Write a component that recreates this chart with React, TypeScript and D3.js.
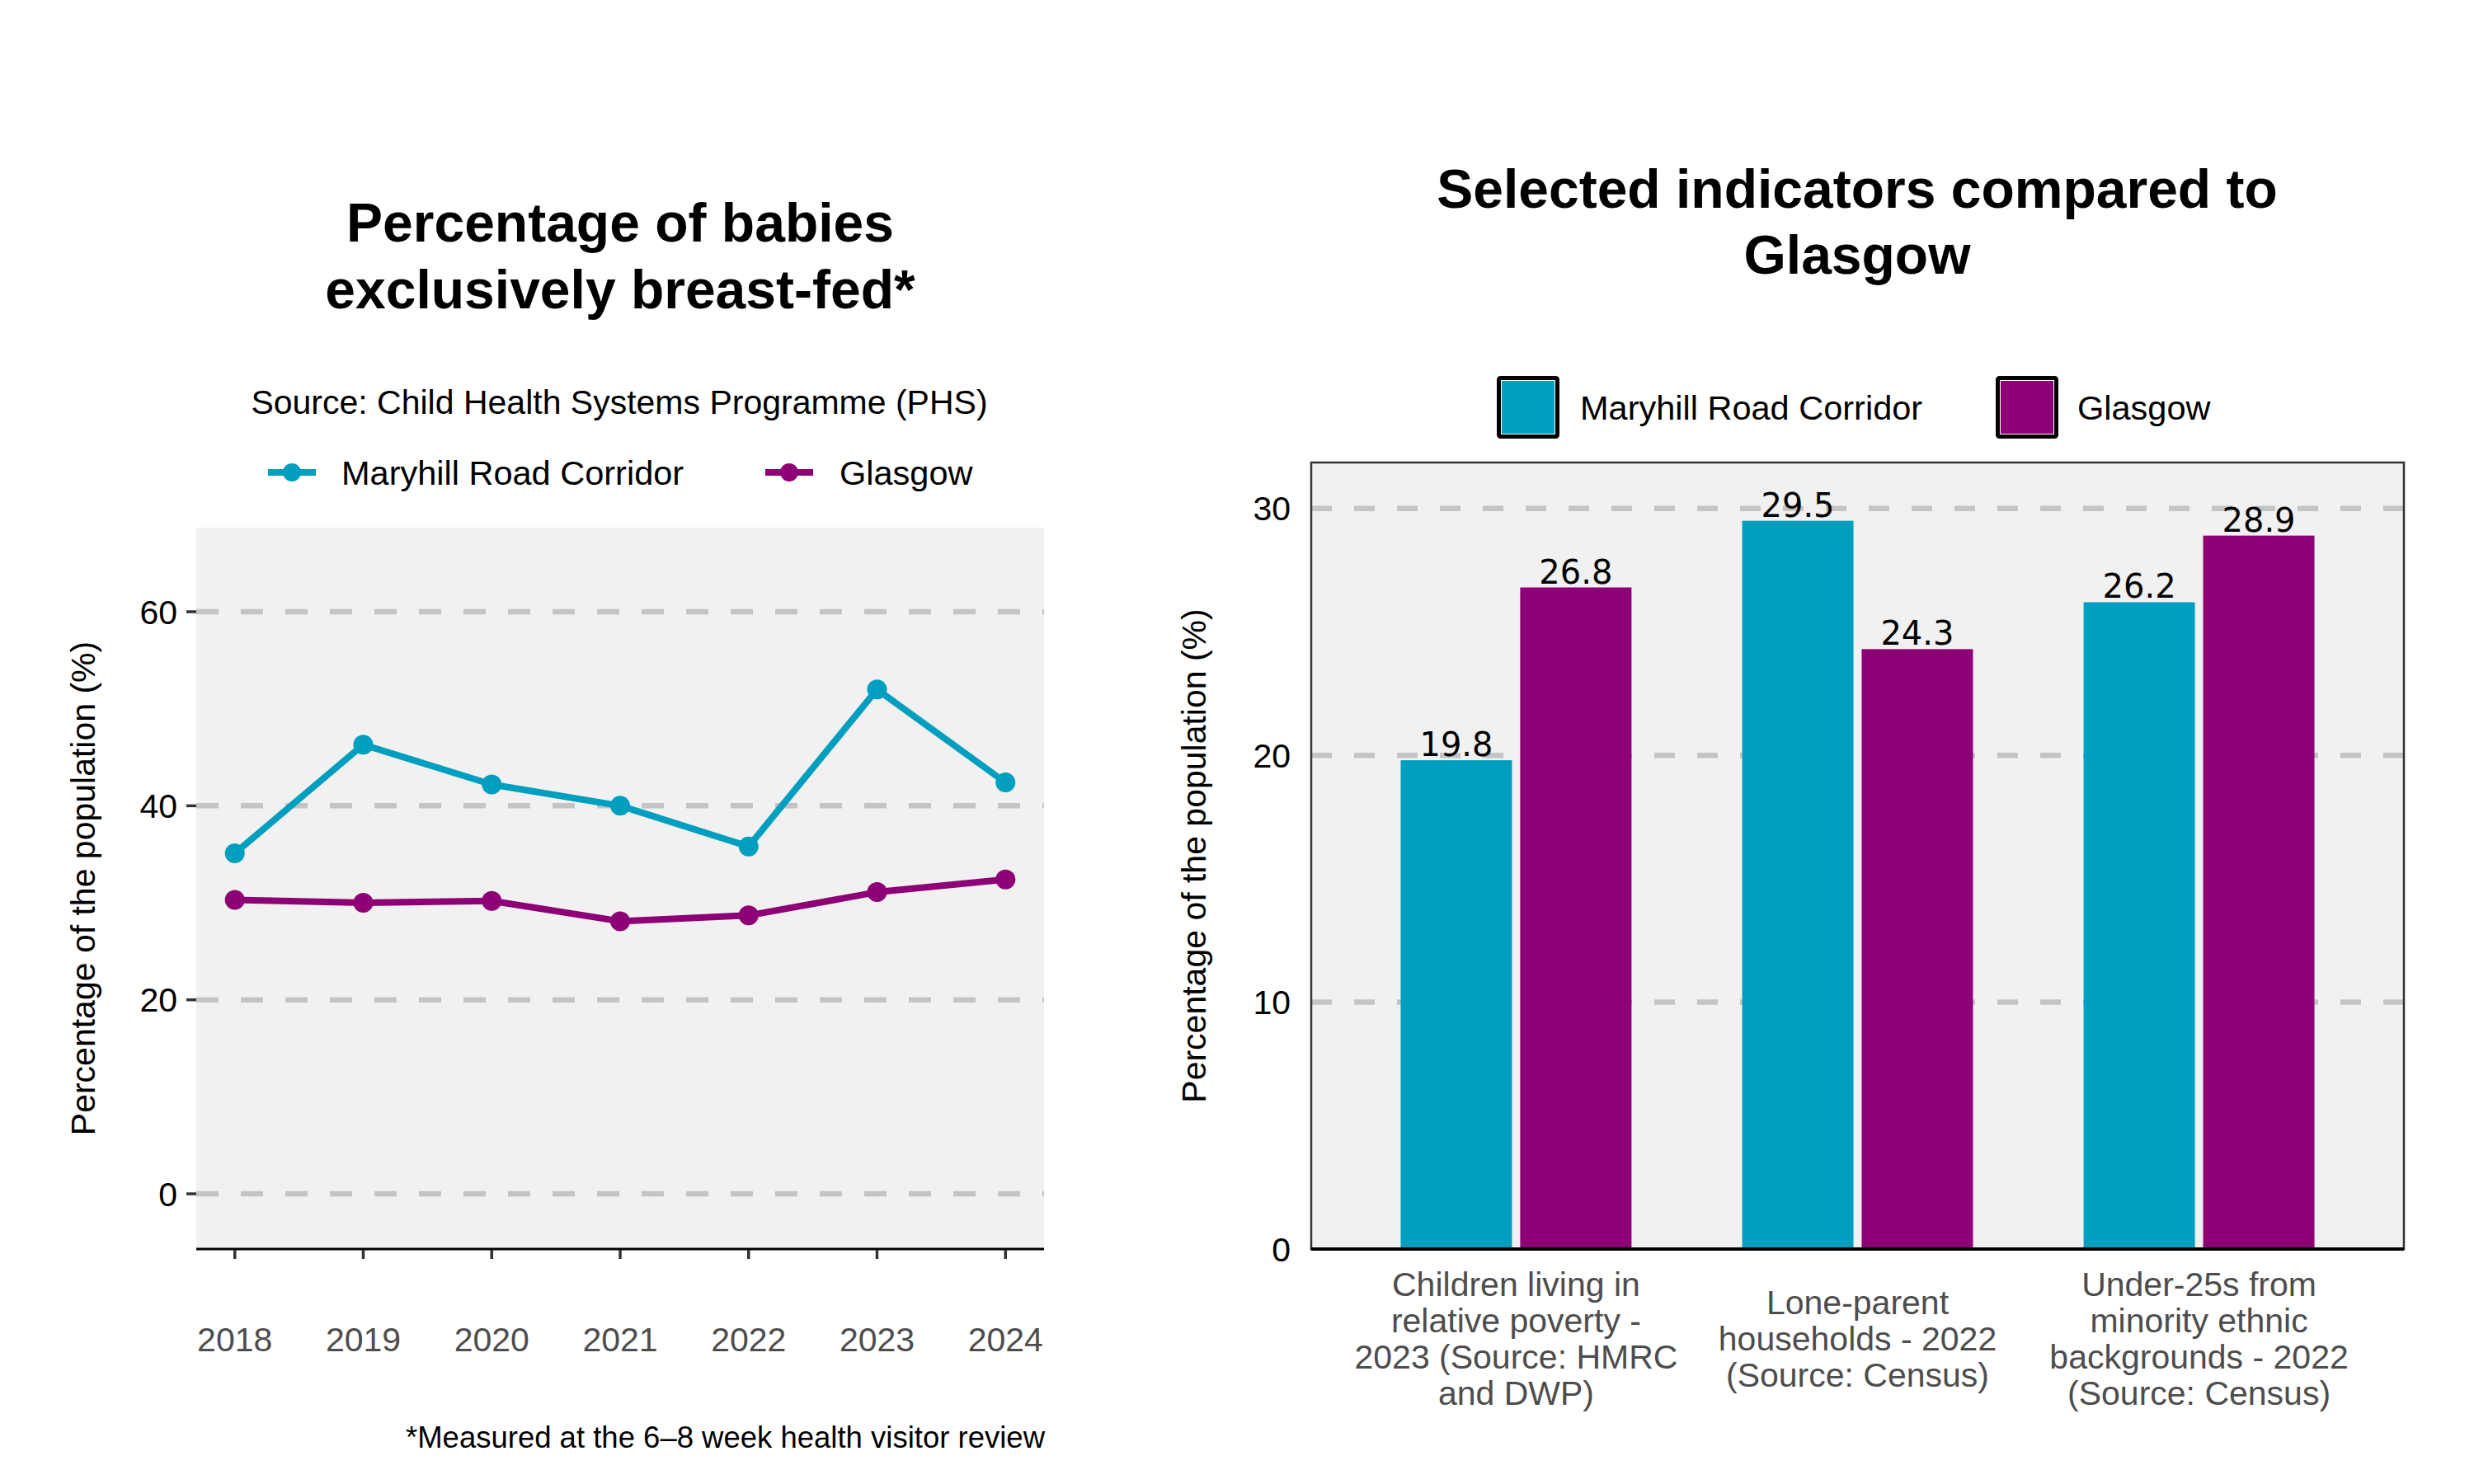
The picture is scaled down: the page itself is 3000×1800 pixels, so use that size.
import React from "react";
import * as d3 from "d3";

const years = [2018, 2019, 2020, 2021, 2022, 2023, 2024];
const maryhillBreastfed = [35.1, 46.3, 42.2, 40.0, 35.8, 52.0, 42.4];
const glasgowBreastfed = [30.3, 30.0, 30.2, 28.1, 28.7, 31.1, 32.4];
const leftYTicks = [0, 20, 40, 60];

const categories = [
  ["Children living in", "relative poverty -", "2023 (Source: HMRC", "and DWP)"],
  ["Lone-parent", "households - 2022", "(Source: Census)"],
  ["Under-25s from", "minority ethnic", "backgrounds - 2022", "(Source: Census)"],
];
const maryhillIndicators = [19.8, 29.5, 26.2];
const glasgowIndicators = [26.8, 24.3, 28.9];
const rightYTicks = [0, 10, 20, 30];

const seriesNames = ["Maryhill Road Corridor", "Glasgow"];
const TEAL = "#009EBF";
const PURPLE = "#8E0076";
const FONT = "'Liberation Sans', Arial, Helvetica, sans-serif";
const GRID = "#C4C4C4";
const PANEL = "#F1F1F1";

export default function App() {
  // Left panel
  const lx = d3.scaleLinear().domain([2017.7, 2024.3]).range([238, 1266]);
  const ly = d3.scaleLinear().domain([-5.69, 68.67]).range([1515, 640]);
  const line = d3
    .line<[number, number]>()
    .x((d) => lx(d[0]))
    .y((d) => ly(d[1]));
  const mData = years.map((y, i) => [y, maryhillBreastfed[i]] as [number, number]);
  const gData = years.map((y, i) => [y, glasgowBreastfed[i]] as [number, number]);

  // Right panel
  const catIdx = categories.map((_, i) => String(i));
  const rx = d3.scalePoint<string>().domain(catIdx).range([1590, 2915]).padding(0.6);
  const ry = d3.scaleLinear().domain([0, 31.86]).range([1515, 561]);
  const step = rx.step();
  const barW = step * 0.326;
  const gap = step * 0.024;

  return (
    <div style={{ position: "absolute", left: 0, top: 0 }}>
      <svg width={3000} height={1800} style={{ display: "block", background: "#fff" }} fontFamily={FONT}>
        {/* ---------- LEFT CHART ---------- */}
        <text x={752} y={293} textAnchor="middle" fontSize={66} fontWeight="bold" fill="#000">
          Percentage of babies
        </text>
        <text x={752} y={374} textAnchor="middle" fontSize={66} fontWeight="bold" fill="#000">
          exclusively breast-fed*
        </text>
        <text x={751} y={502} textAnchor="middle" fontSize={41} fill="#000">
          Source: Child Health Systems Programme (PHS)
        </text>
        {/* legend */}
        {[
          { cx: 354, tx: 414, color: TEAL, name: seriesNames[0] },
          { cx: 957, tx: 1018, color: PURPLE, name: seriesNames[1] },
        ].map((l) => (
          <g key={l.name}>
            <line x1={l.cx - 29} x2={l.cx + 29} y1={573} y2={573} stroke={l.color} strokeWidth={8} />
            <circle cx={l.cx} cy={573} r={11} fill={l.color} />
            <text x={l.tx} y={588} fontSize={41.5} fill="#000">
              {l.name}
            </text>
          </g>
        ))}
        <rect x={238} y={640} width={1028} height={875} fill={PANEL} />
        {leftYTicks.map((t) => (
          <g key={t}>
            <line x1={238} x2={1266} y1={ly(t)} y2={ly(t)} stroke={GRID} strokeWidth={6.5} strokeDasharray="27 27" />
            <line x1={226} x2={238} y1={ly(t)} y2={ly(t)} stroke="#333" strokeWidth={3.5} />
            <text x={215} y={ly(t) + 14.5} textAnchor="end" fontSize={41} fill="#000">
              {t}
            </text>
          </g>
        ))}
        <line x1={238} x2={1266} y1={1515} y2={1515} stroke="#000" strokeWidth={3} />
        {years.map((y) => (
          <g key={y}>
            <line x1={lx(y)} x2={lx(y)} y1={1516} y2={1527} stroke="#333" strokeWidth={3.5} />
            <text x={lx(y)} y={1639} textAnchor="middle" fontSize={41} fill="#4D4D4D">
              {y}
            </text>
          </g>
        ))}
        <path d={line(mData) || ""} fill="none" stroke={TEAL} strokeWidth={8} strokeLinejoin="round" />
        <path d={line(gData) || ""} fill="none" stroke={PURPLE} strokeWidth={8} strokeLinejoin="round" />
        {mData.map((d) => (
          <circle key={"m" + d[0]} cx={lx(d[0])} cy={ly(d[1])} r={12} fill={TEAL} />
        ))}
        {gData.map((d) => (
          <circle key={"g" + d[0]} cx={lx(d[0])} cy={ly(d[1])} r={12} fill={PURPLE} />
        ))}
        <text
          transform={`translate(115, ${(640 + 1515) / 2}) rotate(-90)`}
          textAnchor="middle"
          fontSize={41}
          fill="#000"
        >
          Percentage of the population (%)
        </text>
        <text x={1267} y={1756} textAnchor="end" fontSize={36.5} fill="#000">
          *Measured at the 6–8 week health visitor review
        </text>

        {/* ---------- RIGHT CHART ---------- */}
        <text x={2252} y={252} textAnchor="middle" fontSize={66} fontWeight="bold" fill="#000">
          Selected indicators compared to
        </text>
        <text x={2252} y={332} textAnchor="middle" fontSize={66} fontWeight="bold" fill="#000">
          Glasgow
        </text>
        {[
          { x: 1815, tx: 1916, color: TEAL, name: seriesNames[0] },
          { x: 2420, tx: 2519, color: PURPLE, name: seriesNames[1] },
        ].map((l) => (
          <g key={l.name}>
            <rect x={l.x + 2.5} y={458.5} width={71} height={71} fill={l.color} stroke="#000" strokeWidth={5} rx={2} />
            <rect x={l.x + 5.5} y={461.5} width={65} height={65} fill="none" stroke="#fff" strokeWidth={1} />
            <text x={l.tx} y={509} fontSize={41.5} fill="#000">
              {l.name}
            </text>
          </g>
        ))}
        <rect x={1590} y={561} width={1325} height={954} fill={PANEL} />
        {rightYTicks.map((t) => (
          <g key={t}>
            {t > 0 && (
              <line x1={1590} x2={2915} y1={ry(t)} y2={ry(t)} stroke={GRID} strokeWidth={6.5} strokeDasharray="25 27" />
            )}
            <text x={1565} y={ry(t) + 14.5} textAnchor="end" fontSize={41} fill="#000">
              {t}
            </text>
          </g>
        ))}
        {catIdx.map((c, i) => {
          const cx = rx(c) as number;
          const mv = maryhillIndicators[i];
          const gv = glasgowIndicators[i];
          return (
            <g key={c}>
              <rect x={cx - gap / 2 - barW} y={ry(mv)} width={barW} height={ry(0) - ry(mv)} fill={TEAL} />
              <rect x={cx + gap / 2} y={ry(gv)} width={barW} height={ry(0) - ry(gv)} fill={PURPLE} />
              <text
                x={cx - gap / 2 - barW / 2}
                y={ry(mv) - 5}
                textAnchor="middle"
                fontSize={40}
                fontFamily="'DejaVu Sans', sans-serif"
                fill="#000"
              >
                {mv.toFixed(1)}
              </text>
              <text
                x={cx + gap / 2 + barW / 2}
                y={ry(gv) - 5}
                textAnchor="middle"
                fontSize={40}
                fontFamily="'DejaVu Sans', sans-serif"
                fill="#000"
              >
                {gv.toFixed(1)}
              </text>
              {categories[i].map((ln, j) => {
                const n = categories[i].length;
                const y0 = 1638 - ((n - 1) / 2) * 44 + j * 44;
                return (
                  <text key={j} x={cx} y={y0} textAnchor="middle" fontSize={41} fill="#4D4D4D">
                    {ln}
                  </text>
                );
              })}
            </g>
          );
        })}
        <rect x={1590} y={561} width={1325} height={954} fill="none" stroke="#333" strokeWidth={2.5} />
        <line x1={1590} x2={2915} y1={1515} y2={1515} stroke="#000" strokeWidth={4} />
        <text
          transform={`translate(1462, ${(561 + 1515) / 2}) rotate(-90)`}
          textAnchor="middle"
          fontSize={41}
          fill="#000"
        >
          Percentage of the population (%)
        </text>
      </svg>
    </div>
  );
}
